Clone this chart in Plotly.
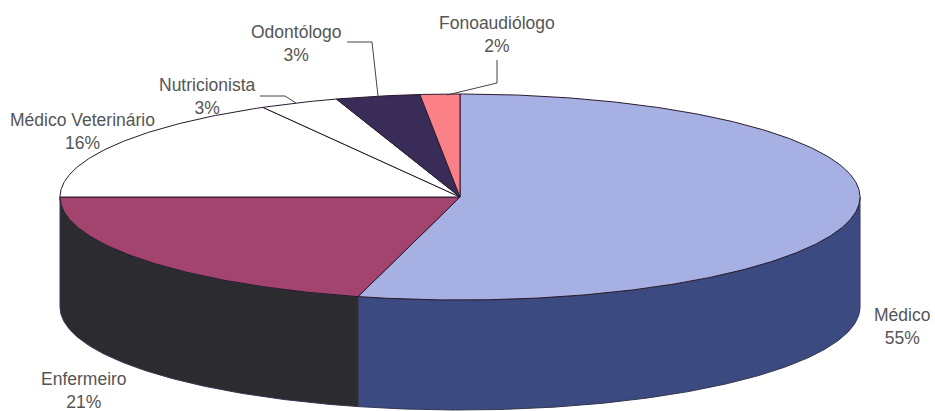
import numpy as np
import plotly.graph_objects as go

# slices, clockwise from 12 o'clock
categories = ["Médico", "Enfermeiro", "Médico Veterinário", "Nutricionista", "Odontólogo", "Fonoaudiólogo"]
shares = [54.1, 20.9, 16.8, 3.2, 3.4, 1.6]
pct_labels = ["55%", "21%", "16%", "3%", "3%", "2%"]
top_colors = ["#a7b0e3", "#a3446e", "#ffffff", "#ffffff", "#3a2c58", "#fb8088"]
side_colors = ["#3b4a80", "#2b2b30", "#ffffff", "#ffffff", "#3a2c58", "#fb8088"]

# label centres and leader lines, page pixels
label_pos = [(902, 326), (84, 390), (82, 131), (207, 96), (296, 43), (497, 34)]
leaders = [
    [(260, 96), (285, 96), (296, 103)],
    [(347, 42), (372, 42), (378, 96)],
    [(497, 60), (497, 83), (447, 95)],
]

# pie geometry, page pixels
cx, cy, rx, ry, depth = 460, 197, 400, 103, 110


def rim(a0, a1, dy=0):
    t = np.radians(np.linspace(a0, a1, max(int(abs(a1 - a0) * 2), 2)))
    return cx + rx * np.sin(t), cy - ry * np.cos(t) + dy


edges = np.cumsum([0] + shares) / sum(shares) * 360
fig = go.Figure()
OUTLINE = dict(color="#2a1a2e", width=1)

# wall of the pie: only the front half of the rim is visible
for i in range(len(shares)):
    a0, a1 = max(edges[i], 90), min(edges[i + 1], 270)
    if a1 <= a0:
        continue
    xt, yt = rim(a0, a1)
    xb, yb = rim(a1, a0, depth)
    fig.add_trace(go.Scatter(x=np.r_[xt, xb, xt[0]], y=np.r_[yt, yb, yt[0]], mode="lines",
                             fill="toself", fillcolor=side_colors[i],
                             line=dict(color="#33384f", width=1)))

# top face
for i in range(len(shares)):
    xr, yr = rim(edges[i], edges[i + 1])
    fig.add_trace(go.Scatter(x=np.r_[cx, xr, cx], y=np.r_[cy, yr, cy], mode="lines",
                             fill="toself", fillcolor=top_colors[i], line=OUTLINE))

for pts in leaders:
    fig.add_trace(go.Scatter(x=[p[0] for p in pts], y=[p[1] for p in pts], mode="lines",
                             line=dict(color="#444444", width=1)))

for name, pct, (lx, ly) in zip(categories, pct_labels, label_pos):
    fig.add_annotation(x=lx, y=ly, text=f"{name}<br>{pct}", showarrow=False,
                       font=dict(family="Liberation Sans", size=17.5, color="#555555"))

fig.update_layout(width=935, height=411, showlegend=False, paper_bgcolor="white",
                  plot_bgcolor="white", margin=dict(l=0, r=0, t=0, b=0),
                  xaxis=dict(range=[0, 935], visible=False, fixedrange=True),
                  yaxis=dict(range=[411, 0], visible=False, fixedrange=True))
# the page's default body margin would push the figure out of the window
fig.write_html("out.html", config=dict(displayModeBar=False),
               post_script="document.body.style.margin='0';")
